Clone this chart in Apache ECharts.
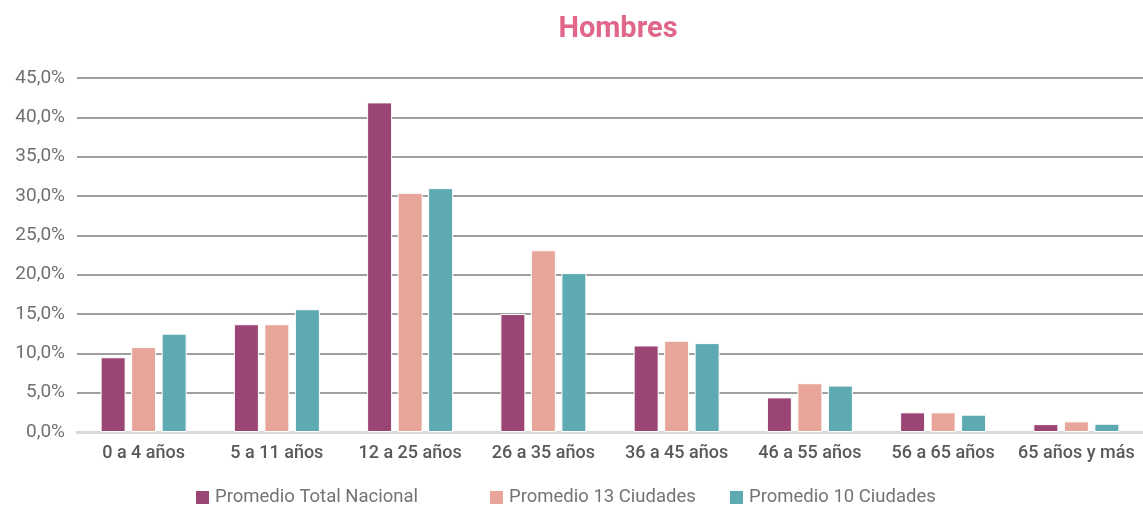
<!DOCTYPE html>
<html>
<head>
<meta charset="utf-8">
<script src="https://cdn.jsdelivr.net/npm/echarts@6/dist/echarts.min.js"></script>
<style>
  html, body { margin: 0; padding: 0; background: #fff; }
  #chart { width: 1143px; height: 512px; }
</style>
</head>
<body>
<div id="chart"></div>
<script>
const categories = ['0 a 4 años', '5 a 11 años', '12 a 25 años', '26 a 35 años', '36 a 45 años', '46 a 55 años', '56 a 65 años', '65 años y más']
const seriesNames = ['Promedio Total Nacional', 'Promedio 13 Ciudades', 'Promedio 10 Ciudades']
const totalNacional = [9.5, 13.7, 41.9, 15.0, 11.0, 4.4, 2.5, 1.0]
const ciudades13 = [10.8, 13.7, 30.4, 23.1, 11.6, 6.2, 2.5, 1.35]
const ciudades10 = [12.5, 15.6, 31.0, 20.2, 11.3, 5.9, 2.2, 1.05]
const colors = ['#9b4574', '#e8a59a', '#5daab3']

const chart = echarts.init(document.getElementById('chart'))
const values = [totalNacional, ciudades13, ciudades10]
const legendLefts = [189, 483, 723]

const option = {
  animation: false,
  color: colors,
  title: {
    text: 'Hombres',
    left: 613,
    textAlign: 'center',
    top: 10,
    textStyle: {
      fontFamily: 'Roboto, sans-serif',
      fontWeight: 'bold',
      fontSize: 29,
      color: '#e0668a'
    }
  },
  // one legend per entry so the uneven spacing of the original can be kept
  legend: seriesNames.map((name, i) => ({
    data: [name],
    top: 483,
    left: legendLefts[i],
    itemWidth: 15,
    itemHeight: 15,
    itemGap: 6,
    icon: 'rect',
    textStyle: {
      fontFamily: 'Roboto, sans-serif',
      fontSize: 18.5,
      color: '#737373'
    }
  })),
  grid: { left: 77, right: 0, top: 78, bottom: 80 },
  xAxis: {
    type: 'category',
    data: categories,
    axisTick: { show: false },
    axisLine: { lineStyle: { color: '#d9d9d9', width: 3 } },
    axisLabel: {
      interval: 0,
      fontFamily: 'Roboto, sans-serif',
      fontSize: 18,
      fontWeight: 500,
      color: '#595959',
      margin: 12
    }
  },
  yAxis: {
    type: 'value',
    min: 0,
    max: 45,
    interval: 5,
    axisLine: { show: false },
    axisTick: { show: false },
    splitLine: { lineStyle: { color: '#7f7f7f', width: 1.5 } },
    axisLabel: {
      fontFamily: 'Roboto, sans-serif',
      fontSize: 19,
      color: '#707070',
      margin: 12,
      formatter: v => v.toFixed(1).replace('.', ',') + '%'
    }
  },
  series: seriesNames.map((name, i) => ({
    name: name,
    type: 'bar',
    data: values[i],
    barWidth: 25,
    barGap: '22%',
    itemStyle: { borderColor: '#fff', borderWidth: 1 }
  }))
}
chart.setOption(option)
</script>
</body>
</html>
